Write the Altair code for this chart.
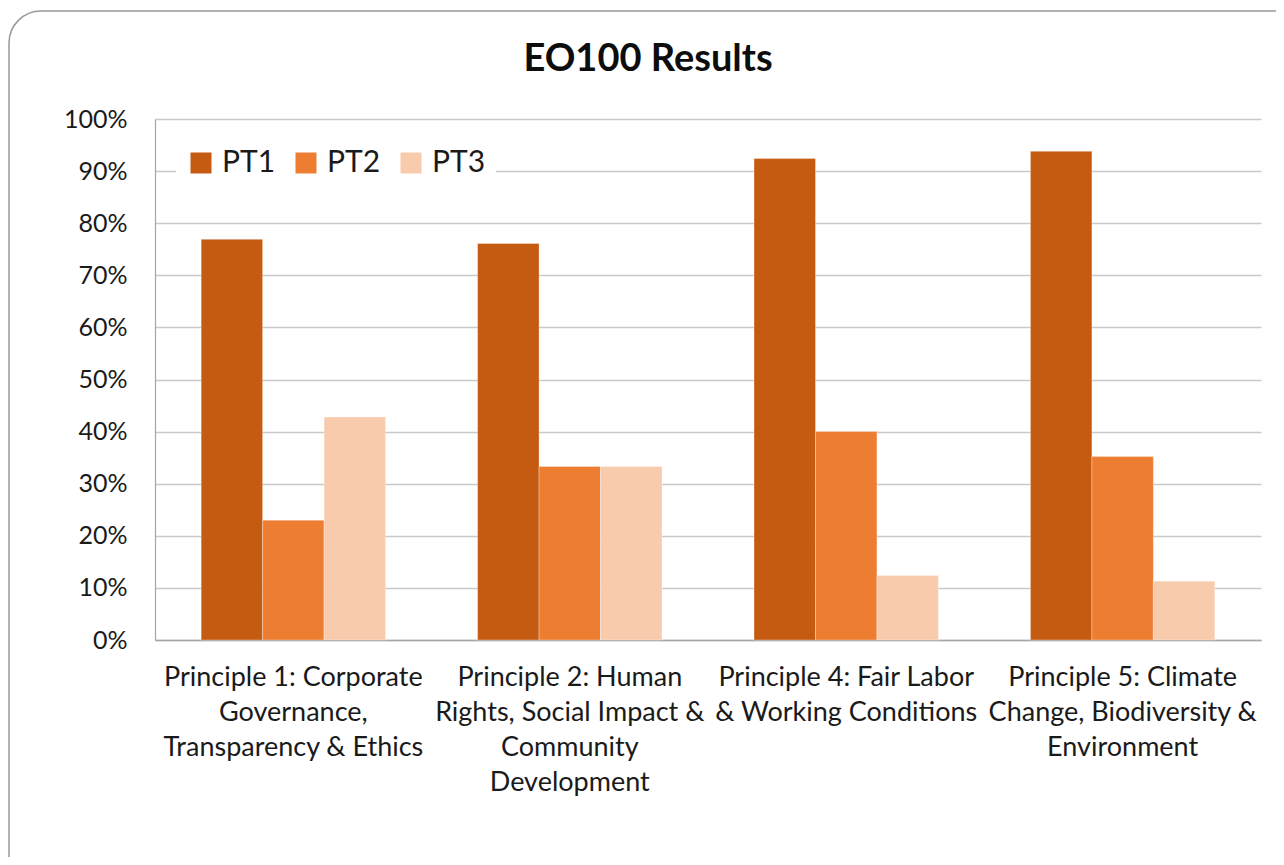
import altair as alt
import pandas as pd

categories = [
    "Principle 1: Corporate Governance, Transparency & Ethics",
    "Principle 2: Human Rights, Social Impact & Community Development",
    "Principle 4: Fair Labor & Working Conditions",
    "Principle 5: Climate Change, Biodiversity & Environment",
]
wrapped = [
    ["Principle 1: Corporate", "Governance,", "Transparency & Ethics"],
    ["Principle 2: Human", "Rights, Social Impact &", "Community", "Development"],
    ["Principle 4: Fair Labor", "& Working Conditions"],
    ["Principle 5: Climate", "Change, Biodiversity &", "Environment"],
]
series = ["PT1", "PT2", "PT3"]
pt1 = [0.769, 0.761, 0.924, 0.938]
pt2 = [0.230, 0.333, 0.400, 0.352]
pt3 = [0.428, 0.333, 0.124, 0.113]
colors = ["#C55A11", "#ED7D31", "#F8CBAD"]
title_text = "EO100 Results"

rows = []
for i, c in enumerate(categories):
    for s, vals in zip(series, [pt1, pt2, pt3]):
        rows.append({"category": c, "series": s, "value": vals[i]})
df = pd.DataFrame(rows)

def js_list(lines):
    return "[" + ",".join("'" + l.replace("'", "\\'") + "'" for l in lines) + "]"

label_expr = ""
for c, w in zip(categories, wrapped):
    label_expr += f"datum.value == '{c}' ? {js_list(w)} : "
label_expr += "datum.value"

FONT = "Lato"
W, H = 1106, 521

frame = alt.Chart(pd.DataFrame({"a": [0]})).mark_rect(
    filled=False, stroke="#999999", strokeWidth=1.5, cornerRadius=32
).encode(
    x=alt.value(-146), x2=alt.value(1200),
    y=alt.value(-108), y2=alt.value(800),
)

title = alt.Chart(pd.DataFrame({"t": [title_text]})).mark_text(
    font=FONT, fontSize=38, fontWeight="bold", color="#0d0d0d",
    align="center", baseline="alphabetic",
).encode(text="t:N", x=alt.value(493), y=alt.value(-48))

bars = alt.Chart(df).mark_bar(stroke="#ffffff", strokeOpacity=0.4, strokeWidth=0.8).encode(
    x=alt.X(
        "category:N", sort=categories, title=None,
        scale=alt.Scale(paddingInner=0.333, paddingOuter=0.167),
        axis=alt.Axis(
            labelExpr=label_expr, labelAngle=0, labelFont=FONT, labelFontSize=27,
            labelColor="#1a1a1a", labelLineHeight=35, labelPadding=24,
            labelBaseline="top", ticks=False, domainColor="#a6a6a6", domainWidth=1.5,
            labelLimit=400,
        ),
    ),
    xOffset=alt.XOffset("series:N", sort=series, scale=alt.Scale(paddingInner=0, paddingOuter=0)),
    y=alt.Y(
        "value:Q", title=None,
        scale=alt.Scale(domain=[0, 1], nice=False),
        axis=alt.Axis(
            format="%", values=[i / 10 for i in range(11)], labelFont=FONT, labelFontSize=25,
            labelColor="#1a1a1a", labelPadding=28, ticks=False, domainColor="#a6a6a6",
            domainWidth=1.2, gridColor="#c9c9c9", gridWidth=1.3,
        ),
    ),
    color=alt.Color(
        "series:N", sort=series, title=None,
        scale=alt.Scale(domain=series, range=colors),
        legend=alt.Legend(
            orient="none", legendX=21, legendY=19, direction="horizontal",
            fillColor="#ffffff", padding=10, symbolType="square", symbolSize=441,
            symbolStrokeWidth=0, labelFont=FONT, labelFontSize=30, labelColor="#1a1a1a",
            labelOffset=6, columnPadding=15, symbolOpacity=1,
        ),
    ),
)

chart = alt.layer(frame, title, bars).properties(
    width=W, height=H,
    autosize=alt.AutoSizeParams(type="none"),
    padding={"left": 147, "top": 111, "right": 15, "bottom": 217},
).configure_view(stroke=None)

chart.save("out.html", embed_options={"renderer": "svg", "actions": False})
